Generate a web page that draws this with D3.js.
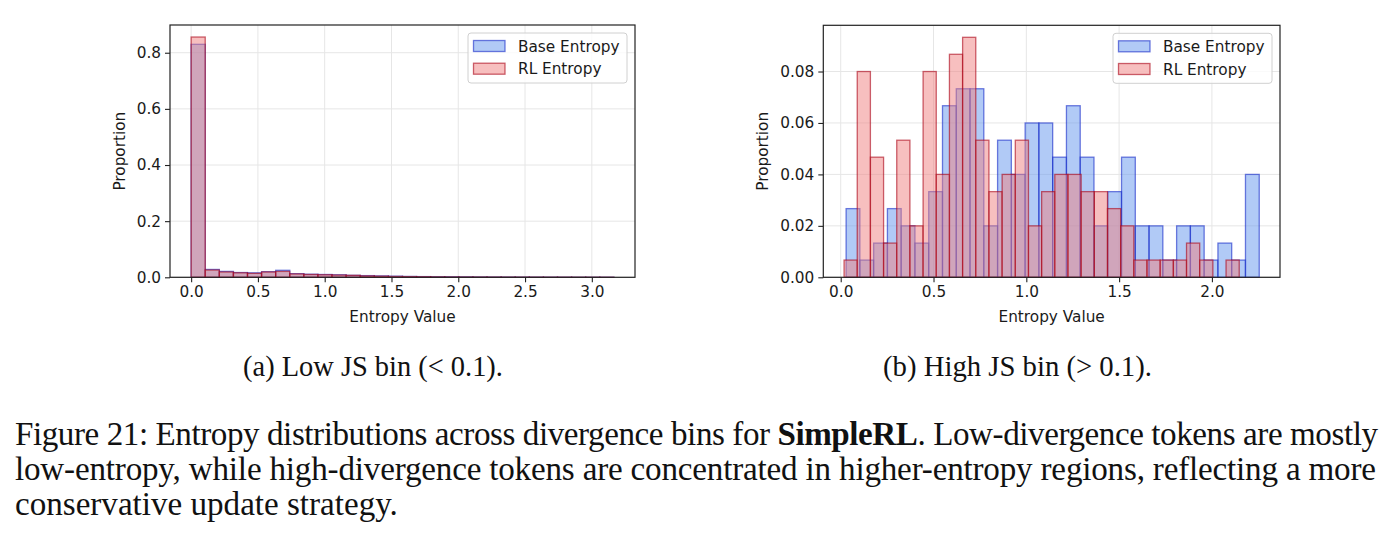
<!DOCTYPE html>
<html lang="en">
<head>
  <meta charset="UTF-8">
  <title>Entropy distributions across divergence bins</title>
  <style>
    body, html { margin: 0; padding: 0; background: #fff; }
    svg { display: block; }
  </style>
</head>
<body>
  <svg id="svg" width="1393" height="551"></svg>

  <script src="https://cdn.jsdelivr.net/npm/d3@7"></script>
  <script>
    // ---- data ----
    // (a) low JS bin: 30 bins starting at 0 with width ~0.1055
    const lowBins = { start: 0, width: 0.1055, count: 30 };
    const lowBase = [0.830, 0.028, 0.021, 0.017, 0.016, 0.020, 0.025, 0.013, 0.011, 0.010,
                     0.009, 0.007, 0.006, 0.005, 0.004, 0.003, 0.0025, 0.002, 0.0018, 0.0015,
                     0.0012, 0.001, 0.0008, 0.0007, 0.0006, 0.0005, 0.0004, 0.0003, 0.0003, 0.0002];
    const lowRL   = [0.856, 0.026, 0.019, 0.016, 0.014, 0.019, 0.021, 0.012, 0.010, 0.009,
                     0.008, 0.007, 0.005, 0.004, 0.003, 0.0025, 0.002, 0.0015, 0.0012, 0.001,
                     0.0008, 0.0007, 0.0006, 0.0005, 0.0004, 0.0003, 0.0003, 0.0002, 0.0002, 0.0001];

    // (b) high JS bin: each series has its own 30 bins
    const highBaseBins = { start: 0.029, width: 0.0742, count: 30 };
    const highRLBins   = { start: 0.018, width: 0.07097, count: 30 };
    const highBase = [0.0267, 0.0067, 0.0133, 0.0267, 0.0200, 0.0133, 0.0333, 0.0667, 0.0733, 0.0733,
                      0.0200, 0.0533, 0.0400, 0.0600, 0.0600, 0.0467, 0.0667, 0.0467, 0.0200, 0.0333,
                      0.0467, 0.0200, 0.0200, 0.0067, 0.0200, 0.0200, 0.0067, 0.0133, 0.0067, 0.0400];
    const highRL   = [0.0067, 0.0800, 0.0467, 0.0133, 0.0533, 0.0200, 0.0800, 0.0400, 0.0867, 0.0933,
                      0.0533, 0.0333, 0.0400, 0.0533, 0.0200, 0.0333, 0.0400, 0.0400, 0.0333, 0.0333,
                      0.0267, 0.0200, 0.0067, 0.0067, 0.0067, 0.0067, 0.0133, 0.0067, 0.0000, 0.0067];

    const lowXTicks = [0, 0.5, 1.0, 1.5, 2.0, 2.5, 3.0];
    const lowYTicks = [0, 0.2, 0.4, 0.6, 0.8];
    const highXTicks = [0, 0.5, 1.0, 1.5, 2.0];
    const highYTicks = [0, 0.02, 0.04, 0.06, 0.08];

    const seriesNames = ['Base Entropy', 'RL Entropy'];
    const subCaptions = ['(a) Low JS bin (< 0.1).', '(b) High JS bin (> 0.1).'];

    const FONT = '"DejaVu Sans", sans-serif';
    const FS = '15.3px';
    const baseStyle = { fill: 'rgba(100,149,237,0.5)', stroke: 'rgba(20,40,200,0.6)' };
    const rlStyle   = { fill: 'rgba(240,128,128,0.5)', stroke: 'rgba(170,0,20,0.6)' };

    const svg = d3.select('#svg');

    function drawPanel(cfg) {
      const { left, right, top, bottom } = cfg;
      const g = svg.append('g');

      const lo = d3.min(cfg.series, s => s.bins.start);
      const hi = d3.max(cfg.series, s => s.bins.start + s.bins.count * s.bins.width);
      const pad = (hi - lo) * 0.05;

      const x = d3.scaleLinear().domain([lo - pad, hi + pad]).range([left, right]);
      const yMax = d3.max(cfg.series, s => d3.max(s.values)) * 1.05;
      const y = d3.scaleLinear().domain([0, yMax]).range([bottom, top]);

      // grid
      g.append('g')
        .selectAll('line')
        .data(cfg.xTicks)
        .join('line')
        .attr('x1', d => x(d)).attr('x2', d => x(d))
        .attr('y1', top).attr('y2', bottom)
        .attr('stroke', '#e6e6e6').attr('stroke-width', 1);
      g.append('g')
        .selectAll('line')
        .data(cfg.yTicks)
        .join('line')
        .attr('x1', left).attr('x2', right)
        .attr('y1', d => y(d)).attr('y2', d => y(d))
        .attr('stroke', '#e6e6e6').attr('stroke-width', 1);

      // bars
      cfg.series.forEach(s => {
        const b = s.bins;
        g.append('g')
          .selectAll('rect')
          .data(s.values.map((v, i) => ({ v, i })).filter(d => d.v > 0))
          .join('rect')
          .attr('x', d => x(b.start + d.i * b.width))
          .attr('width', d => x(b.start + (d.i + 1) * b.width) - x(b.start + d.i * b.width))
          .attr('y', d => y(d.v))
          .attr('height', d => y(0) - y(d.v))
          .attr('fill', s.style.fill)
          .attr('stroke', s.style.stroke)
          .attr('stroke-width', 1.3);
      });

      // axes
      const xAxis = g.append('g')
        .attr('transform', `translate(0,${bottom})`)
        .call(d3.axisBottom(x).tickValues(cfg.xTicks).tickFormat(d3.format('.1f')).tickSizeOuter(0).tickSize(5).tickPadding(4));
      const yAxis = g.append('g')
        .attr('transform', `translate(${left},0)`)
        .call(d3.axisLeft(y).tickValues(cfg.yTicks).tickFormat(d3.format(cfg.yFmt)).tickSizeOuter(0).tickSize(5).tickPadding(4));
      [xAxis, yAxis].forEach(a => {
        a.select('.domain').remove();
        a.selectAll('line').attr('stroke', '#222').attr('stroke-width', 1.1);
        a.selectAll('text').attr('fill', '#1a1a1a').style('font-family', FONT).style('font-size', FS);
      });

      // frame
      g.append('rect')
        .attr('x', left).attr('y', top)
        .attr('width', right - left).attr('height', bottom - top)
        .attr('fill', 'none').attr('stroke', '#222').attr('stroke-width', 1.2);

      // axis labels
      g.append('text')
        .attr('x', (left + right) / 2)
        .attr('y', 322)
        .attr('text-anchor', 'middle')
        .style('font-family', FONT).style('font-size', FS).attr('fill', '#1a1a1a')
        .text('Entropy Value');
      g.append('text')
        .attr('transform', `translate(${cfg.yLabelX},${(top + bottom) / 2}) rotate(-90)`)
        .attr('text-anchor', 'middle')
        .style('font-family', FONT).style('font-size', FS).attr('fill', '#1a1a1a')
        .text('Proportion');

      // legend
      const lw = 159, lh = 50;
      const lx = right - 8 - lw, ly = top + 8;
      const leg = g.append('g');
      leg.append('rect')
        .attr('x', lx).attr('y', ly).attr('width', lw).attr('height', lh)
        .attr('rx', 3)
        .attr('fill', 'rgba(255,255,255,0.8)')
        .attr('stroke', '#d0d0d0').attr('stroke-width', 1);
      cfg.series.forEach((s, i) => {
        const cy = ly + 13 + i * 22.7;
        leg.append('rect')
          .attr('x', lx + 5.5).attr('y', cy - 5.5)
          .attr('width', 31.5).attr('height', 11)
          .attr('fill', s.style.fill).attr('stroke', s.style.stroke).attr('stroke-width', 1.3);
        leg.append('text')
          .attr('x', lx + 50).attr('y', cy + 5.5)
          .style('font-family', FONT).style('font-size', FS).attr('fill', '#1a1a1a')
          .text(s.name);
      });
    }

    drawPanel({
      left: 170, right: 635, top: 25, bottom: 277.3,
      yLabelX: 125, xTicks: lowXTicks, yTicks: lowYTicks, yFmt: '.1f',
      series: [
        { name: seriesNames[0], bins: lowBins, values: lowBase, style: baseStyle },
        { name: seriesNames[1], bins: lowBins, values: lowRL, style: rlStyle }
      ]
    });

    drawPanel({
      left: 823.3, right: 1280, top: 25.3, bottom: 277.3,
      yLabelX: 768, xTicks: highXTicks, yTicks: highYTicks, yFmt: '.2f',
      series: [
        { name: seriesNames[0], bins: highBaseBins, values: highBase, style: baseStyle },
        { name: seriesNames[1], bins: highRLBins, values: highRL, style: rlStyle }
      ]
    });

    // ---- captions ----
    const SERIF = '"Liberation Serif", "DejaVu Serif", serif';

    function fitSize(text, width) {
      const probe = svg.append('text').style('font-family', SERIF).style('font-size', '100px').text(text);
      const w = probe.node().getComputedTextLength();
      probe.remove();
      return 100 * width / w;
    }

    // size the caption font from the last (unjustified) line
    const capSize = fitSize('conservative update strategy.', 383);

    const subCenters = [373, 1017.5];
    const subWidths = [260, 269];
    subCaptions.forEach((t, i) => {
      svg.append('text')
        .attr('x', subCenters[i]).attr('y', 376)
        .attr('text-anchor', 'middle')
        .style('font-family', SERIF).style('font-size', fitSize(t, subWidths[i]) + 'px').attr('fill', '#111')
        .text(t);
    });

    const line1 = svg.append('text')
      .attr('x', 15).attr('y', 445)
      .attr('textLength', 1363).attr('lengthAdjust', 'spacing')
      .style('font-family', SERIF).style('font-size', capSize + 'px').attr('fill', '#111');
    line1.append('tspan').text('Figure 21: Entropy distributions across divergence bins for ');
    line1.append('tspan').attr('font-weight', 'bold').text('SimpleRL');
    line1.append('tspan').text('. Low-divergence tokens are mostly');

    svg.append('text')
      .attr('x', 15).attr('y', 480)
      .attr('textLength', 1361).attr('lengthAdjust', 'spacing')
      .style('font-family', SERIF).style('font-size', capSize + 'px').attr('fill', '#111')
      .text('low-entropy, while high-divergence tokens are concentrated in higher-entropy regions, reflecting a more');

    svg.append('text')
      .attr('x', 15).attr('y', 515)
      .style('font-family', SERIF).style('font-size', capSize + 'px').attr('fill', '#111')
      .text('conservative update strategy.');
  </script>
</body>
</html>
